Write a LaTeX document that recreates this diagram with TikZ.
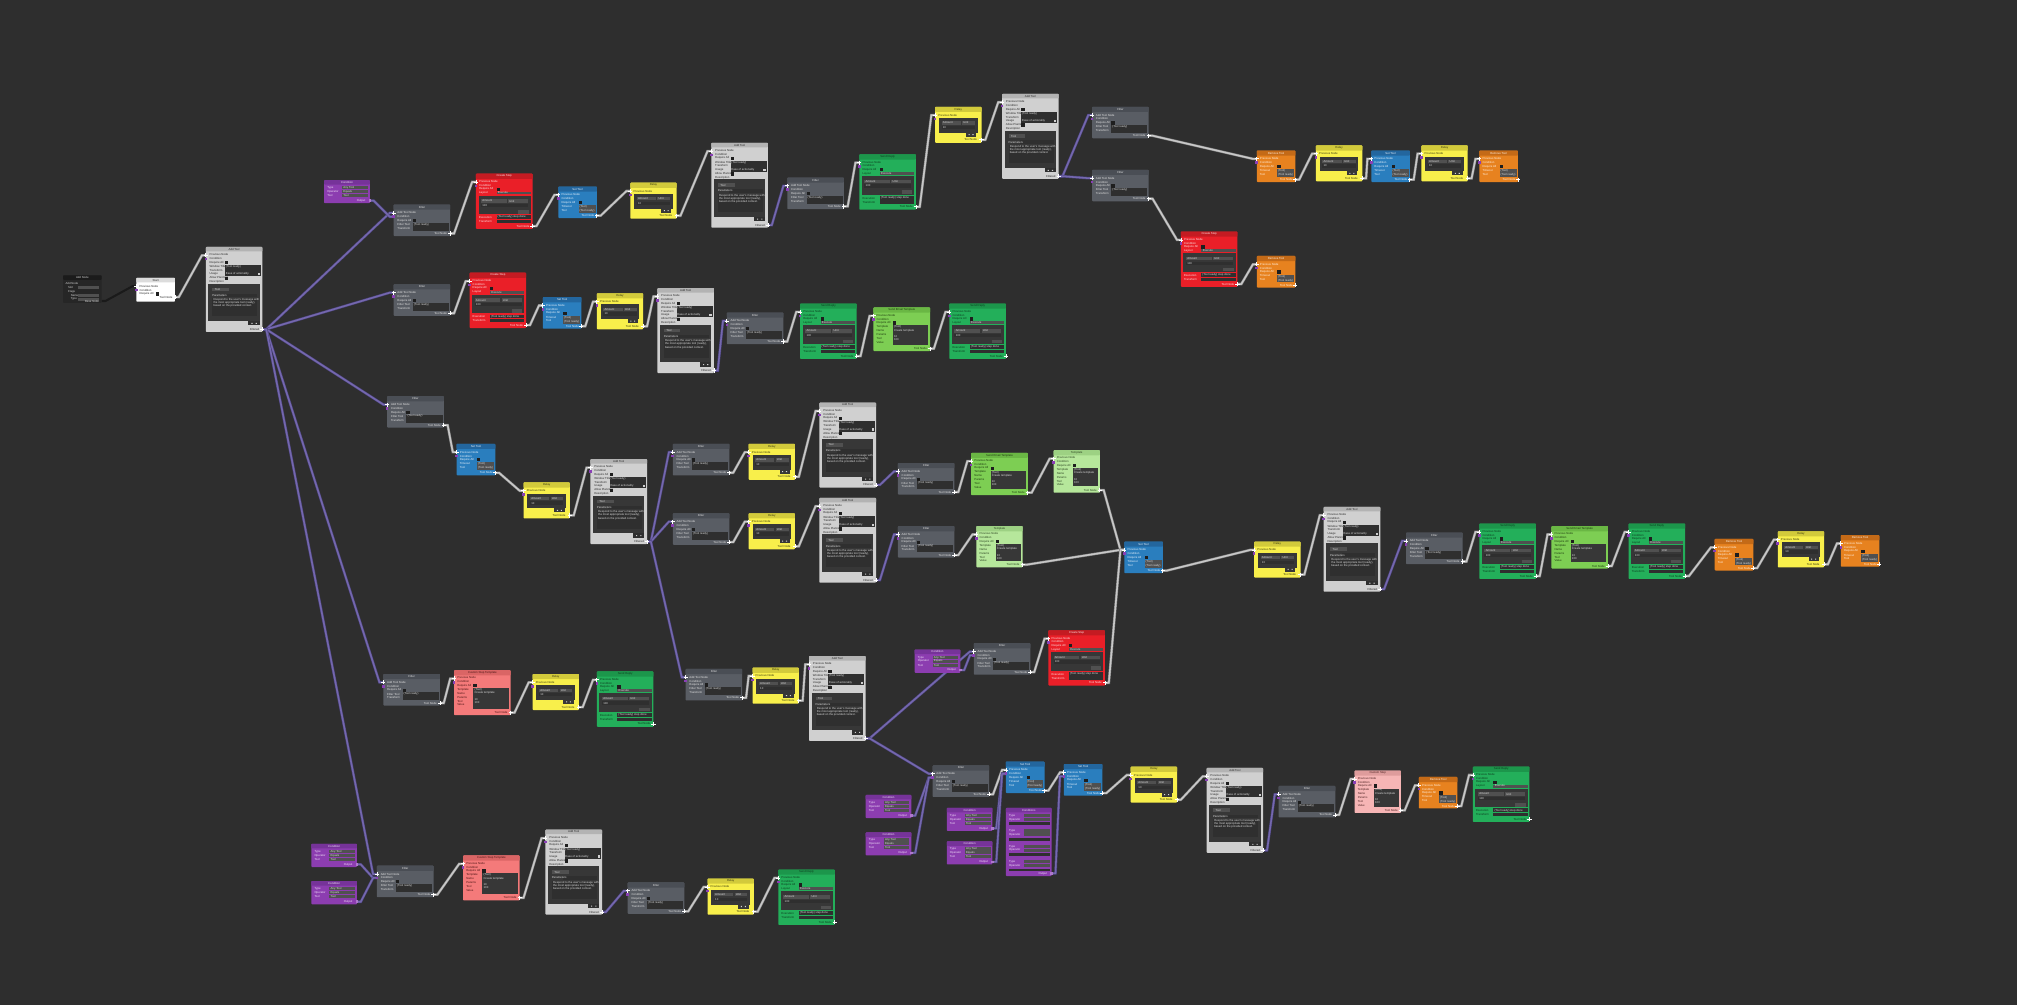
\documentclass[tikz,border=0pt]{standalone}
\usepackage{fontspec}
\setmainfont{Liberation Sans}
\usetikzlibrary{calc}
\pgfdeclarelayer{wl}
\pgfsetlayers{wl,main}
\definecolor{bgC}{HTML}{2E2E2E}
\definecolor{gryB}{HTML}{595D64}\definecolor{gryH}{HTML}{4A4E55}\definecolor{gryT}{HTML}{E2E2E2}
\definecolor{lgyB}{HTML}{D0D0D0}\definecolor{lgyH}{HTML}{B3B3B3}\definecolor{lgyT}{HTML}{2A2A2A}
\definecolor{redB}{HTML}{EA1F28}\definecolor{redH}{HTML}{C41B22}\definecolor{redT}{HTML}{FBE3E3}
\definecolor{bluB}{HTML}{2A7EBE}\definecolor{bluH}{HTML}{23669E}\definecolor{bluT}{HTML}{E6F0FA}
\definecolor{yelB}{HTML}{F8EF4B}\definecolor{yelH}{HTML}{D2CA3B}\definecolor{yelT}{HTML}{3A3A10}
\definecolor{grnB}{HTML}{23AF5A}\definecolor{grnH}{HTML}{1C964B}\definecolor{grnT}{HTML}{0E3A1F}
\definecolor{lgnB}{HTML}{7DCE53}\definecolor{lgnH}{HTML}{6AB744}\definecolor{lgnT}{HTML}{1E3A10}
\definecolor{pgnB}{HTML}{B6E79B}\definecolor{pgnH}{HTML}{9DD183}\definecolor{pgnT}{HTML}{2A4220}
\definecolor{orgB}{HTML}{E7821F}\definecolor{orgH}{HTML}{C46A17}\definecolor{orgT}{HTML}{FFF0E0}
\definecolor{purB}{HTML}{8C3DB0}\definecolor{purH}{HTML}{763399}\definecolor{purT}{HTML}{F0E0F8}
\definecolor{pnkB}{HTML}{F6B5B5}\definecolor{pnkH}{HTML}{DE9C9C}\definecolor{pnkT}{HTML}{4A2020}
\definecolor{salB}{HTML}{F47A7A}\definecolor{salH}{HTML}{DA6565}\definecolor{salT}{HTML}{4A1515}
\definecolor{whtB}{HTML}{FFFFFF}\definecolor{whtH}{HTML}{DCDCDC}\definecolor{whtT}{HTML}{2A2A2A}
\definecolor{drkB}{HTML}{262626}\definecolor{drkH}{HTML}{1B1B1B}\definecolor{drkT}{HTML}{CFCFCF}
\definecolor{chk}{HTML}{1E1E1E}
\definecolor{fldD}{HTML}{2F2F2F}
\definecolor{fldM}{HTML}{505050}
\definecolor{pnlD}{HTML}{373737}
\definecolor{fldT}{HTML}{D8D8D8}
\definecolor{wireC}{HTML}{C8C8C8}\definecolor{wireO}{HTML}{858585}
\definecolor{pwC}{HTML}{7568AE}\definecolor{pwO}{HTML}{4C4480}
\definecolor{dwC}{HTML}{1A1A1A}
\definecolor{cdC}{HTML}{8A3FB5}
\tikzset{
 lb/.style={font=\fontsize{2.2}{2.4}\selectfont, inner sep=0pt, outer sep=0pt},
 nb/.style={anchor=north west, inner sep=0pt, outer sep=0pt, rounded corners=0.6pt},
 pm/.style={draw=white, line width=0.6pt},
 wire/.style={draw=wireC, line width=1.2pt, line join=round, preaction={draw=wireO, line width=2pt},
   to path={-- ++(3,0) -- ($(\tikztotarget)+(-3,0)$) -- (\tikztotarget)}},
 pwire/.style={draw=pwC, line width=1.2pt, line join=round, preaction={draw=pwO, line width=2pt},
   to path={-- ++(3,0) -- ($(\tikztotarget)+(-3,0)$) -- (\tikztotarget)}},
 dwire/.style={draw=dwC, line width=1.6pt, line join=round,
   to path={-- ++(3,0) -- ($(\tikztotarget)+(-3,0)$) -- (\tikztotarget)}},
}
\newcount\lc
\newcommand\tx[2]{\global\advance\lc by 1\relax
  \edef\tmp{\noexpand\node[lb,anchor=west,text=\tc] (t\the\lc) at (#1)}\tmp{#2};}
\newcommand\txr[2]{\global\advance\lc by 1\relax
  \edef\tmp{\noexpand\node[lb,anchor=east,text=\tc] (t\the\lc) at (#1)}\tmp{#2};}
\newcommand\nbody[6]{%
  \node[nb, fill=#4B, minimum width=#2pt, minimum height=#3pt] (#1) at (0,0) {};
  \fill[#4H, rounded corners=0.6pt] (0,0) rectangle (#2,#6);
  \node[lb,text=#4T] (#1-title) at ({#2/2},{#6/2}) {#5};}
\newcommand\ports[3]{%
  \coordinate (#1-in) at (0,6.5);
  \coordinate (#1-cd) at (0,9.5);
  \coordinate (#1-out) at (#2,#3);
  \fill[cdC] (-1,8.5) rectangle (1,10.5);
  \draw[pm] (0,6.5) +(-1.6,0) -- +(1.6,0) +(0,-1.6) -- +(0,1.6);
  \draw[pm] (#2,#3) +(-1.6,0) -- +(1.6,0) +(0,-1.6) -- +(0,1.6);}
% ---------- grey filter
\newcommand\filt[3]{\begin{scope}[shift={(#2,#3)}]\def\tc{gryT}%
  \nbody{#1}{44}{24.5}{gry}{Filter}{4}%
  \tx{3,6.5}{Add Tool Node}\tx{3,9.5}{Condition}\tx{3,12.5}{Require All}\tx{3,15.5}{Filter Tool}\tx{3,18.5}{Transform}%
  \fill[chk] (15,11.3) rectangle (17.5,13.8);
  \fill[fldD] (15,14.3) rectangle (43,20.5);
  \def\tc{fldT}\tx{15.8,15.6}{(Tool ready)}\def\tc{gryT}%
  \txr{41.5,22.5}{Tool Node}%
  \ports{#1}{44}{22.5}\end{scope}}
% ---------- light grey add tool
\newcommand\addt[3]{\begin{scope}[shift={(#2,#3)}]\def\tc{lgyT}%
  \nbody{#1}{44}{66}{lgy}{Add Tool}{3.5}%
  \tx{3,6}{Previous Node}\tx{3,9}{Condition}\tx{3,12}{Require All}\tx{3,15}{Window Title}%
  \tx{3,18}{Transform}\tx{3,21}{Usage}\tx{3,24}{Allow Planning}\tx{3,27}{Description}%
  \fill[chk] (15,10.8) rectangle (17.5,13.3);
  \fill[fldD] (15,14) rectangle (43,22.5);
  \fill[lgyB] (40.5,20) rectangle (42.2,21.8);
  \fill[chk] (15,23) rectangle (17.5,25.5);
  \fill[pnlD] (2,28.5) rectangle (42,57.5);
  \fill[fldM] (5,31.5) rectangle (18,34.3);
  \fill[fldD] (14,36.2) rectangle (40,38.8);
  \fill[fldD] (5,39.5) rectangle (40,54);
  \fill[fldD] (33,57.5) rectangle (42,61);
  \fill[lgyB] (35.5,59) rectangle (36.3,59.8) (38.8,59) rectangle (39.6,59.8);
  \def\tc{fldT}\tx{15.6,15.3}{(Tool ready)}\tx{15.6,21}{Ease of actionality}%
  \tx{7,32.9}{Tool}\tx{5,37.5}{Parameters}%
  \tx{6,41}{Respond to the user's message with}\tx{6,43.5}{the most appropriate tool (ready),}%
  \tx{6,46}{based on the provided context.}\def\tc{lgyT}%
  \txr{41.5,64}{Filtered}%
  \ports{#1}{44}{64}\end{scope}}
% ---------- yellow delay
\newcommand\dly[3]{\begin{scope}[shift={(#2,#3)}]\def\tc{yelT}%
  \nbody{#1}{36}{28}{yel}{Delay}{4}%
  \tx{2.5,6.5}{Previous Node}%
  \fill[pnlD] (3,8.7) rectangle (33,20.3);
  \fill[fldM] (5,11.3) rectangle (20,13.8);
  \fill[fldM] (21,11.3) rectangle (31,13.8);
  \fill[fldD] (5,14.8) rectangle (31,17.3);
  \fill[pnlD] (24,20) rectangle (32,23.3);
  \fill[fldT] (26,21.3) rectangle (26.8,22.1) (29,21.3) rectangle (29.8,22.1);
  \def\tc{fldT}\tx{6,12.55}{Amount}\tx{22,12.55}{Unit}\tx{6,16.05}{10}\def\tc{yelT}%
  \txr{32.5,25.7}{Tool Node}%
  \ports{#1}{36}{25.7}\end{scope}}
% ---------- blue / orange small tool node
\newcommand\stool[5]{\begin{scope}[shift={(#2,#3)}]\def\tc{#4T}%
  \nbody{#1}{30}{24.5}{#4}{#5}{4}%
  \tx{2.5,6.5}{Previous Node}\tx{2.5,9.5}{Condition}\tx{2.5,12.5}{Require All}\tx{2.5,15.5}{Timeout}\tx{2.5,18.5}{Tool}%
  \fill[chk] (16,11.2) rectangle (18.5,13.7);
  \fill[fldM] (16,14.4) rectangle (29,20.6);
  \def\tc{fldT}\tx{16.6,15.8}{(Tool)}\tx{16.6,18.9}{(Tool ready)}\def\tc{#4T}%
  \txr{28,22.6}{Tool Node}%
  \ports{#1}{30}{22.6}\end{scope}}
% ---------- red / green step node
\newcommand\bstep[5]{\begin{scope}[shift={(#2,#3)}]\def\tc{#4T}%
  \nbody{#1}{44}{43}{#4}{#5}{4}%
  \tx{2.5,6}{Previous Node}\tx{2.5,9}{Condition}\tx{2.5,12}{Require All}\tx{2.5,15}{Layout}%
  \fill[chk] (16,10.8) rectangle (18.5,13.3);
  \fill[fldM] (16,13.9) rectangle (42.5,16.2);
  \fill[pnlD] (2,17) rectangle (42.5,31.5);
  \fill[fldM] (4,20) rectangle (24,22.5);
  \fill[fldM] (25,20) rectangle (40.5,22.5);
  \fill[fldD] (4,23.3) rectangle (40.5,25.8);
  \fill[fldM] (33,28) rectangle (41,31);
  \fill[fldD] (16,32.5) rectangle (42.5,35.3);
  \fill[fldD] (16,35.8) rectangle (42.5,38.6);
  \def\tc{fldT}\tx{17,15.05}{Execute}\tx{5,21.25}{Amount}\tx{26,21.25}{Unit}\tx{5,24.55}{100}%
  \tx{16.8,33.9}{(Tool ready) step done}\def\tc{#4T}%
  \tx{2.5,34}{Execution}\tx{2.5,37.2}{Transform}%
  \txr{41.5,40.8}{Tool Node}%
  \ports{#1}{44}{40.8}\end{scope}}
% ---------- template node (light green, pale green, pink, salmon)
\newcommand\tmpl[7]{\begin{scope}[shift={(#2,#3)}]\def\tc{#6T}%
  \nbody{#1}{#4}{#5}{#6}{#7}{4}%
  \tx{2.5,6}{Previous Node}\tx{2.5,9}{Condition}\tx{2.5,12}{Require All}\tx{2.5,15}{Template}%
  \tx{2.5,18}{Name}\tx{2.5,21}{Params}\tx{2.5,24}{Tool}\tx{2.5,27}{Value}%
  \fill[chk] (15,10.8) rectangle (17.5,13.3);
  \fill[pnlD] (15,14) rectangle ({#4-1.5},{#5-5});
  \def\tc{fldT}\tx{16,15.3}{(Tool)}\tx{16,17.8}{Create template}\tx{16,22.5}{10}\tx{16,25}{100}\def\tc{#6T}%
  \txr{{#4-2.5},{#5-2}}{Tool Node}%
  \ports{#1}{#4}{{#5-2}}\end{scope}}
% ---------- purple condition node
\newcommand\cnd[3]{\begin{scope}[shift={(#2,#3)}]\def\tc{purT}%
  \nbody{#1}{35.5}{18}{pur}{Condition}{3.5}%
  \tx{2.5,6}{Type}\tx{2.5,9}{Operator}\tx{2.5,12}{Tool}%
  \fill[fldM] (14,4.8) rectangle (34,7.2);
  \fill[fldM] (14,7.8) rectangle (34,10.2);
  \fill[fldM] (14,10.8) rectangle (34,13.2);
  \def\tc{fldT}\tx{15,6}{Any Tool}\tx{15,9}{Equals}\tx{15,12}{Tool}\def\tc{purT}%
  \txr{32,16}{Output}%
  \coordinate (#1-out) at (35.5,16);
  \fill[cdC!70!white] (34.5,15) rectangle (36.5,17);
  \end{scope}}
\newcommand\cndt[3]{\begin{scope}[shift={(#2,#3)}]\def\tc{purT}%
  \nbody{#1}{35.5}{53}{pur}{Conditions}{3.5}%
  \foreach \k in {0,1,2,3}{%
    \fill[fldM] (14,{4.8+12*\k}) rectangle (34,{7.2+12*\k});
    \fill[fldM] (14,{7.8+12*\k}) rectangle (34,{10.2+12*\k});
    \fill[fldD] (2,{11.2+12*\k}) rectangle (34,{13.4+12*\k});
  }%
  \tx{2.5,6}{Type}\tx{2.5,9}{Operator}\tx{2.5,18}{Type}\tx{2.5,21}{Operator}%
  \tx{2.5,30}{Type}\tx{2.5,33}{Operator}\tx{2.5,42}{Type}\tx{2.5,45}{Operator}%
  \txr{32,51}{Output}%
  \coordinate (#1-out) at (35.5,51);
  \fill[cdC!70!white] (34.5,50) rectangle (36.5,52);
  \end{scope}}
\begin{document}
\begin{tikzpicture}[x=1pt,y=-1pt]
\begin{pgfonlayer}{wl}
\fill[bgC] (0,0) rectangle (1568,781);
\end{pgfonlayer}
\useasboundingbox (0,0) rectangle (1568,781);
% ---------- start nodes
\begin{scope}[shift={(49,214)}]\def\tc{drkT}
  \nbody{n1}{30}{21.5}{drk}{Add Node}{3.5}
  \tx{2,6.5}{Add Node}\tx{4,9.5}{Slot}\tx{4,12.5}{Flags}\tx{6,15.5}{Name}\tx{6,18.5}{Type}
  \fill[fldM] (12,8.3) rectangle (28,10.7);
  \fill[fldM] (12,14.3) rectangle (28,16.7);
  \fill[fldM] (12,17.3) rectangle (28,19.7);
  \txr{28,20.2}{Base Node}
  \coordinate (n1-out) at (30,20);
\end{scope}
\begin{scope}[shift={(106,216)}]\def\tc{whtT}
  \nbody{n2}{30}{18.5}{wht}{Start}{3.5}
  \tx{2.5,6.5}{Previous Node}\tx{2.5,9.5}{Condition}\tx{2.5,12.5}{Require All}
  \fill[chk] (15.3,11.3) rectangle (17.8,13.8);
  \txr{28,15}{Tool Node}
  \ports{n2}{30}{15}
\end{scope}
\addt{n3}{160}{192}
% ---------- row 1
\cnd{n4}{252}{140}
\filt{n5}{306}{159}
\bstep{n6}{370}{135}{red}{Create Step}
\stool{n7}{434}{145}{blu}{Set Tool}
\dly{n8}{490}{142}
\addt{n9}{553}{111}
\filt{n10}{612}{138}
\bstep{n11}{668}{120}{grn}{Send Reply}
\dly{n12}{727}{83}
\addt{n13}{779}{73}
\filt{n14}{849}{83}
\filt{n15}{849}{132}
\stool{n16}{977}{117}{org}{Remove Tool}
\dly{n17}{1023}{113}
\stool{n18}{1066}{117}{blu}{Set Tool}
\dly{n19}{1105}{113}
\stool{n20}{1150}{117}{org}{Remove Tool}
\bstep{n21}{918}{180}{red}{Create Step}
\stool{n22}{977}{199}{org}{Remove Tool}
% ---------- row 2
\filt{n23}{306}{221}
\bstep{n24}{365}{212}{red}{Create Step}
\stool{n25}{422}{231}{blu}{Set Tool}
\dly{n26}{464}{228}
\addt{n27}{511}{224}
\filt{n28}{565}{243}
\bstep{n29}{622}{236}{grn}{Send Reply}
\tmpl{n30}{679}{239}{44}{34}{lgn}{Send Email Template}
\bstep{n31}{738}{236}{grn}{Send Reply}
% ---------- row 3
\filt{n32}{301}{308}
\stool{n33}{355}{345}{blu}{Set Tool}
\dly{n34}{407}{375}
\addt{n35}{459}{357}
\filt{n36}{523}{345}
\dly{n37}{582}{345}
\addt{n38}{637}{313}
\filt{n39}{523}{399}
\dly{n40}{582}{399}
\addt{n41}{637}{387}
\filt{n42}{698}{360}
\tmpl{n43}{755}{352}{44}{33}{lgn}{Send Email Template}
\tmpl{n44}{819}{350}{36}{33}{pgn}{Template}
\filt{n45}{698}{409}
\tmpl{n46}{759}{409}{36}{32}{pgn}{Template}
\stool{n47}{874}{421}{blu}{Set Tool}
\dly{n48}{975}{421}
\addt{n49}{1029}{394}
\filt{n50}{1093}{414}
\bstep{n51}{1150}{407}{grn}{Send Reply}
\tmpl{n52}{1206}{409}{44}{33}{lgn}{Send Email Template}
\bstep{n53}{1266}{407}{grn}{Send Reply}
\stool{n54}{1333}{419}{org}{Remove Tool}
\dly{n55}{1382}{413}
\stool{n56}{1431}{416}{org}{Remove Tool}
% ---------- lower middle
\filt{n57}{533}{520}
\dly{n58}{585}{519}
\addt{n59}{629}{510}
\cnd{n60}{711}{505}
\filt{n61}{757}{500}
\bstep{n62}{815}{490}{red}{Create Step}
\filt{n63}{725}{595}
\cnd{n64}{673}{618}
\cnd{n65}{673}{647}
\cnd{n66}{736}{628}
\cnd{n67}{736}{654}
\stool{n68}{782}{592}{blu}{Set Tool}
\cndt{n69}{782}{628}
\stool{n70}{827}{594}{blu}{Set Tool}
\dly{n71}{879}{596}
\addt{n72}{938}{597}
\filt{n73}{994}{611}
\tmpl{n74}{1053}{599}{36}{33}{pnk}{Custom Step}
\stool{n75}{1103}{604}{org}{Remove Tool}
\bstep{n76}{1145}{596}{grn}{Send Reply}
% ---------- row 4
\filt{n77}{298}{524}
\tmpl{n78}{353}{521}{44}{35}{sal}{Custom Step Template}
\dly{n79}{414}{524}
\bstep{n80}{464}{522}{grn}{Send Reply}
% ---------- row 5
\cnd{n81}{242}{656}
\cnd{n82}{242}{685}
\filt{n83}{293}{673}
\tmpl{n84}{360}{665}{44}{35}{sal}{Custom Step Template}
\addt{n85}{424}{645}
\filt{n86}{488}{686}
\dly{n87}{550}{683}
\bstep{n88}{605}{676}{grn}{Send Reply}
% ---------- connectors
\begin{pgfonlayer}{wl}
\draw[dwire] (n1-out) to (n2-in);
\draw[wire] (n2-out) to (n3-in);
\foreach \t in {n5,n23,n32,n77,n83} \draw[pwire] (n3-out) to (\t-in);
\draw[pwire] (n4-out) to (n5-cd);
\draw[wire] (n5-out) to (n6-in);
\draw[wire] (n6-out) to (n7-in);
\draw[wire] (n7-out) to (n8-in);
\draw[wire] (n8-out) to (n9-in);
\draw[pwire] (n9-out) to (n10-in);
\draw[wire] (n10-out) to (n11-in);
\draw[wire] (n11-out) to (n12-in);
\draw[wire] (n12-out) to (n13-in);
\draw[pwire] (n13-out) to (n14-in);
\draw[pwire] (n13-out) to (n15-in);
\draw[wire] (n14-out) to (n16-in);
\draw[wire] (n16-out) to (n17-in);
\draw[wire] (n17-out) to (n18-in);
\draw[wire] (n18-out) to (n19-in);
\draw[wire] (n19-out) to (n20-in);
\draw[wire] (n15-out) to (n21-in);
\draw[wire] (n21-out) to (n22-in);
\draw[wire] (n23-out) to (n24-in);
\draw[wire] (n24-out) to (n25-in);
\draw[wire] (n25-out) to (n26-in);
\draw[wire] (n26-out) to (n27-in);
\draw[pwire] (n27-out) to (n28-in);
\draw[wire] (n28-out) to (n29-in);
\draw[wire] (n29-out) to (n30-in);
\draw[wire] (n30-out) to (n31-in);
\draw[wire] (n32-out) to (n33-in);
\draw[wire] (n33-out) to (n34-in);
\draw[wire] (n34-out) to (n35-in);
\draw[pwire] (n35-out) to (n36-in);
\draw[pwire] (n35-out) to (n39-in);
\draw[pwire] (n35-out) to (n57-in);
\draw[wire] (n36-out) to (n37-in);
\draw[wire] (n37-out) to (n38-in);
\draw[wire] (n39-out) to (n40-in);
\draw[wire] (n40-out) to (n41-in);
\draw[pwire] (n38-out) to (n42-in);
\draw[pwire] (n41-out) to (n45-in);
\draw[wire] (n42-out) to (n43-in);
\draw[wire] (n43-out) to (n44-in);
\draw[wire] (n44-out) to (n47-in);
\draw[wire] (n45-out) to (n46-in);
\draw[wire] (n46-out) to (n47-in);
\draw[wire] (n62-out) to (n47-in);
\draw[wire] (n47-out) to (n48-in);
\draw[wire] (n48-out) to (n49-in);
\draw[pwire] (n49-out) to (n50-in);
\draw[wire] (n50-out) to (n51-in);
\draw[wire] (n51-out) to (n52-in);
\draw[wire] (n52-out) to (n53-in);
\draw[wire] (n53-out) to (n54-in);
\draw[wire] (n54-out) to (n55-in);
\draw[wire] (n55-out) to (n56-in);
\draw[wire] (n57-out) to (n58-in);
\draw[wire] (n58-out) to (n59-in);
\draw[pwire] (n59-out) to (n61-in);
\draw[pwire] (n59-out) to (n63-in);
\draw[pwire] (n60-out) to (n61-cd);
\draw[wire] (n61-out) to (n62-in);
\draw[pwire] (n64-out) to (n63-cd);
\draw[pwire] (n65-out) to (n63-cd);
\draw[wire] (n63-out) to (n68-in);
\draw[pwire] (n66-out) to (n68-cd);
\draw[pwire] (n67-out) to (n68-cd);
\draw[wire] (n68-out) to (n70-in);
\draw[pwire] (n69-out) to (n70-cd);
\draw[wire] (n70-out) to (n71-in);
\draw[wire] (n71-out) to (n72-in);
\draw[pwire] (n72-out) to (n73-in);
\draw[wire] (n73-out) to (n74-in);
\draw[wire] (n74-out) to (n75-in);
\draw[wire] (n75-out) to (n76-in);
\draw[wire] (n77-out) to (n78-in);
\draw[wire] (n78-out) to (n79-in);
\draw[wire] (n79-out) to (n80-in);
\draw[pwire] (n81-out) to (n83-cd);
\draw[pwire] (n82-out) to (n83-cd);
\draw[wire] (n83-out) to (n84-in);
\draw[wire] (n84-out) to (n85-in);
\draw[pwire] (n85-out) to (n86-in);
\draw[wire] (n86-out) to (n87-in);
\draw[wire] (n87-out) to (n88-in);
\end{pgfonlayer}
\end{tikzpicture}
\end{document}
